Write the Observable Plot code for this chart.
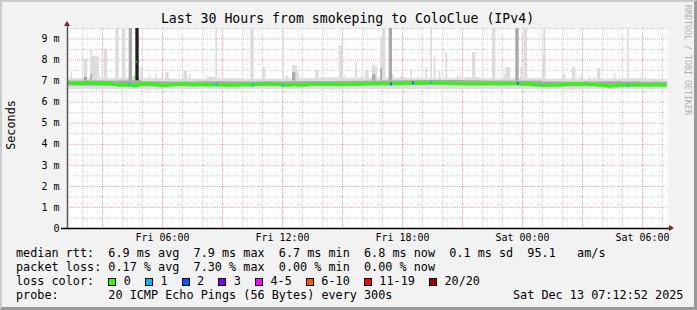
<!DOCTYPE html>
<html>
<head>
<meta charset="utf-8">
<script src="https://cdn.jsdelivr.net/npm/d3@7"></script>
<script src="https://cdn.jsdelivr.net/npm/@observablehq/plot@0.6"></script>
<style>
  html, body { margin: 0; padding: 0; background: #f2f2f2; }
  #wrap { position: relative; width: 697px; height: 310px; overflow: hidden; background: #f2f2f2;
          font-family: "DejaVu Sans Mono", monospace; color: #000; }
  #frame { position: absolute; left: 0; top: 0; width: 697px; height: 310px; box-sizing: border-box;
           border-style: solid; border-width: 2px 3px 3px 2px; border-color: #cbcbcb #999 #999 #cbcbcb; pointer-events: none; }
  #plot { position: absolute; left: 0; top: 0; }
  #title { position: absolute; left: 0; top: 11.4px; width: 695px; text-align: center; font-size: 13.2px; line-height: 16px; white-space: pre; }
  #ylabel { position: absolute; left: -39px; top: 118px; width: 100px; text-align: center; font-size: 11.8px; line-height: 14px; transform: rotate(-90deg); }
  #credit { position: absolute; left: 628px; top: 55px; width: 120px; text-align: center; font-size: 8.3px; line-height: 10px; color: #b0b0b0; transform: rotate(90deg); white-space: pre; }
  .row { position: absolute; left: 16px; font: 11.8px/14px "DejaVu Sans Mono", monospace; white-space: pre; margin: 0; }
  .box { display: inline-block; width: 8px; height: 8px; box-sizing: border-box; border: 1px solid #000; vertical-align: -1px; margin-left: 14.2px; }
  .lab { margin-left: 7.4px; }
  #stamp { position: absolute; left: 513px; top: 288.4px; font: 11.8px/14px "DejaVu Sans Mono", monospace; white-space: pre; }
</style>
</head>
<body>
<div id="wrap">
  <div id="plot"></div>
  <div id="title"></div>
  <div id="ylabel"></div>
  <div id="credit"></div>
  <div class="row" id="row1" style="top:246.4px"></div>
  <div class="row" id="row2" style="top:260.4px"></div>
  <div class="row" id="row3" style="top:274.4px"></div>
  <div class="row" id="row4" style="top:288.4px"></div>
  <div id="stamp"></div>
  <div id="frame"></div>
</div>
<script>
// ---------- data ----------
const titleText = "Last 30 Hours from smokeping to ColoClue (IPv4)";
const yAxisTitle = "Seconds";
const creditText = "RRDTOOL / TOBI OETIKER";
const xTickLabels = ["Fri 06:00", "Fri 12:00", "Fri 18:00", "Sat 00:00", "Sat 06:00"];
const yTickValues = [0, 1, 2, 3, 4, 5, 6, 7, 8, 9];
const yTickLabels = ["0", "1 m", "2 m", "3 m", "4 m", "5 m", "6 m", "7 m", "8 m", "9 m"];
const lossClasses = ["0", "1", "2", "3", "4-5", "6-10", "11-19", "20/20"];
const lossColors = ["#26ff00", "#00b8ff", "#0059ff", "#7e00ff", "#ff00ff", "#ff5500", "#ff0000", "#a00000"];
const rttStats = ["6.9 ms avg", "7.9 ms max", "6.7 ms min", "6.8 ms now", "0.1 ms sd", "95.1   am/s"];
const lossStats = ["0.17 % avg", "7.30 % max", "0.00 % min", "0.00 % now"];
const probeText = "20 ICMP Echo Pings (56 Bytes) every 300s";
const stampText = "Sat Dec 13 07:12:52 2025";

// median rtt (ms), 15-minute steps from Fri 01:15
const medianRtt = [
  6.92, 6.91, 6.88, 6.90, 6.93, 6.90, 6.89, 6.91, 6.86, 6.84,
  6.81, 6.82, 6.80, 6.78, 6.84, 6.87, 6.85, 6.84, 6.81, 6.78,
  6.82, 6.84, 6.85, 6.87, 6.83, 6.82, 6.84, 6.83, 6.82, 6.83,
  6.82, 6.80, 6.80, 6.81, 6.82, 6.83, 6.82, 6.84, 6.84, 6.85,
  6.85, 6.84, 6.83, 6.81, 6.82, 6.83, 6.80, 6.82, 6.85, 6.85,
  6.84, 6.84, 6.85, 6.84, 6.83, 6.85, 6.84, 6.85, 6.86, 6.87,
  6.88, 6.87, 6.89, 6.88, 6.89, 6.88, 6.90, 6.89, 6.91, 6.90,
  6.92, 6.91, 6.92, 6.91, 6.90, 6.91, 6.89, 6.88, 6.88, 6.86,
  6.87, 6.86, 6.88, 6.89, 6.90, 6.89, 6.88, 6.89, 6.88, 6.89,
  6.87, 6.86, 6.86, 6.82, 6.80, 6.79, 6.81, 6.81, 6.82, 6.84,
  6.88, 6.87, 6.84, 6.85, 6.83, 6.84, 6.80, 6.78, 6.76, 6.78,
  6.80, 6.81, 6.82, 6.83, 6.81, 6.82, 6.81, 6.83, 6.82, 6.81
];
// short median excursions (5-minute samples)
const jumpTime = ["Fri 04:35", "Fri 04:40"];
const jumpRtt = [7.20, 7.92];

// hourly smoke envelope (ms), hours Fri 01:00 .. Sat 07:00
const smokeLow  = [6.60,6.59,6.59,6.60,6.58,6.59,6.60,6.59,6.60,6.59,6.60,6.60,6.59,6.58,6.59,6.60,6.59,6.60,6.60,6.59,6.60,6.59,6.60,6.59,6.60,6.58,6.59,6.60,6.59,6.60,6.59];
const smokeHigh = [7.11,7.14,7.13,7.14,7.12,7.10,7.09,7.10,7.12,7.09,7.10,7.11,7.13,7.14,7.14,7.15,7.14,7.13,7.12,7.14,7.14,7.11,7.12,7.13,7.10,7.10,7.09,7.10,7.11,7.09,7.08];
const midLow    = [6.77,6.76,6.76,6.75,6.73,6.75,6.75,6.74,6.75,6.75,6.75,6.74,6.75,6.75,6.76,6.77,6.78,6.79,6.80,6.79,6.78,6.77,6.77,6.75,6.73,6.73,6.75,6.74,6.72,6.73,6.73];
const midHigh   = [7.00,7.01,7.00,7.01,6.97,6.96,6.96,6.97,6.97,6.96,6.97,6.97,6.98,6.98,6.99,7.00,7.01,7.02,7.03,7.03,7.02,7.00,7.00,7.00,6.96,6.95,6.96,6.97,6.96,6.95,6.94];

// smoke spikes: start time, duration (min), top (ms), shade
const spikeTime = ["Fri 01:25","Fri 02:05","Fri 02:25","Fri 02:30","Fri 03:05","Fri 03:40","Fri 04:00","Fri 04:20","Fri 04:40","Fri 04:55",
  "Fri 05:20","Fri 05:40","Fri 06:10","Fri 07:05","Fri 07:20","Fri 08:15","Fri 08:40","Fri 10:25","Fri 11:00","Fri 12:00",
  "Fri 12:10","Fri 12:30","Fri 12:45","Fri 13:15","Fri 13:40","Fri 13:55","Fri 14:15","Fri 14:30","Fri 14:50","Fri 15:05",
  "Fri 15:25","Fri 15:40","Fri 15:55","Fri 16:10","Fri 16:30","Fri 16:40","Fri 16:55","Fri 17:00","Fri 17:20","Fri 17:30",
  "Fri 17:55","Fri 18:25","Fri 18:45","Fri 19:10","Fri 19:25","Fri 19:35","Fri 19:50","Fri 20:10","Fri 20:45","Fri 21:10",
  "Fri 21:30","Fri 21:40","Fri 22:00","Fri 22:30","Fri 23:05","Fri 23:10","Fri 23:40","Fri 23:55","Sat 00:05","Sat 00:15",
  "Sat 01:00","Sat 01:05","Sat 02:00","Sat 02:30","Sat 02:55","Sat 03:20","Sat 03:35","Sat 03:45","Sat 04:35","Sat 05:15",
  "Sat 06:10",
  "Fri 02:05","Fri 02:25","Fri 12:30","Fri 16:30","Fri 16:55"];
const spikeMinutes = [5,10,5,20,10,10,10,10,10,5, 5,5,10,10,5,35,5,10,10,5, 10,15,5,10,10,10,10,10,10,5,
  5,5,5,10,10,5,5,10,10,5, 10,5,5,5,5,5,5,5,5,10, 10,10,20,10,5,15,10,5,10,10,
  10,5,10,10,5,5,5,10,5,5, 5, 10,5,10,10,5];
const spikeTop = [7.40,8.05,8.50,8.16,8.52,10,10,10,10,7.65, 7.25,7.33,7.41,7.49,7.33,7.17,10,10,7.65,10,
  7.25,7.73,7.49,7.10,7.52,7.17,7.17,7.17,8.68,7.25, 7.10,7.89,7.17,7.49,7.76,7.68,9.08,10,10,7.33,
  7.25,7.57,7.17,7.65,10,8.13,7.49,8.36,7.25,7.17, 8.36,7.17,7.10,10,7.33,7.65,10,7.65,10,7.10,
  8.24,10,7.30,7.65,7.25,7.25,7.17,7.60,7.33,10, 7.17,
  7.17,7.33,7.40,7.30,7.60];
const spikeShade = ["L","L","L","L","L","L","L","M","D","L", "L","L","L","L","L","L","L","L","L","L",
  "L","L","L","L","L","L","L","L","L","L", "L","L","L","L","L","L","L","L","M","L",
  "L","L","L","L","L","L","L","L","L","L", "L","L","L","L","L","L","M","L","L","L",
  "L","L","L","L","L","L","L","L","L","L", "L",
  "M","M","M","M","M"];

// median points with packet loss: time, lost pings class index, rtt
const lossTime = ["Fri 04:20","Fri 08:40","Fri 10:30","Fri 12:00","Fri 17:25","Fri 18:30","Fri 19:25","Fri 23:45","Sat 05:15"];
const lossClass = [1, 1, 1, 1, 2, 2, 1, 2, 1];
const lossRtt = [6.86, 6.84, 6.83, 6.81, 6.86, 6.92, 6.93, 6.89, 6.81];

// ---------- build ----------
const T = s => { const [d, hm] = s.split(" "); const [h, m] = hm.split(":").map(Number);
  return new Date(Date.UTC(2025, 11, d === "Fri" ? 12 : 13, h, m)); };
const MIN = 60000;
const xStart = T("Fri 01:15"), xEnd = T("Sat 07:15");
const medianData = medianRtt.map((v, i) => ({t: new Date(+xStart + (15 * i + 7.5) * MIN), v}));
const dataEnd = new Date(+xStart + 15 * medianRtt.length * MIN);
const bandData = smokeLow.map((lo, i) => {
  const h0 = d3.utcHour.offset(T("Fri 01:00"), i);
  const h1 = d3.utcHour.offset(h0, 1);
  return {t0: h0 < xStart ? xStart : h0, t1: h1 > dataEnd ? dataEnd : h1, lo, hi: smokeHigh[i], mlo: midLow[i], mhi: midHigh[i]};
}).filter(d => d.t1 > d.t0);
const shadeColor = {L: "#dcdcdc", M: "#a9a9a9", D: "#1e1e1e"};
const spikeData = spikeTime.map((s, i) => ({t0: T(s), t1: new Date(+T(s) + spikeMinutes[i] * MIN), top: spikeTop[i], shade: shadeColor[spikeShade[i]]}));
const jumpData = jumpTime.map((s, i) => ({t0: T(s), t1: new Date(+T(s) + 4 * MIN), v: jumpRtt[i]}));
const lossData = lossTime.map((s, i) => ({t0: T(s), t1: new Date(+T(s) + 5 * MIN), v: lossRtt[i], c: lossColors[lossClass[i]]}));
const xTicks = xTickLabels.map(T);
const hours = d3.utcHour.range(d3.utcHour.ceil(xStart), xEnd);
const minorX = hours.filter(d => d.getUTCHours() % 3 !== 0);
const majorX = hours.filter(d => d.getUTCHours() % 3 === 0);
const minorY = yTickValues.map(v => v + 0.5);
const majorY = yTickValues.filter(v => v > 0);

const plot = Plot.plot({
  width: 697, height: 250,
  marginLeft: 67, marginRight: 30, marginTop: 28, marginBottom: 22,
  style: {background: "transparent", fontFamily: "'DejaVu Sans Mono', monospace", fontSize: "10px", color: "#000", overflow: "visible"},
  x: {type: "utc", domain: [xStart, xEnd]},
  y: {domain: [0, 9.5]},
  marks: [
    Plot.frame({fill: "#fff", stroke: null}),
    Plot.ruleX(minorX, {stroke: "#cfcfcf", strokeDasharray: "1,1"}),
    Plot.ruleX(majorX, {stroke: "#eba5a5", strokeDasharray: "1,1"}),
    Plot.ruleY(minorY, {stroke: "#cfcfcf", strokeDasharray: "1,1"}),
    Plot.ruleY(majorY, {stroke: "#eba5a5", strokeDasharray: "1,1"}),
    Plot.rect(bandData, {x1: "t0", x2: "t1", y1: "lo", y2: "hi", fill: "#dedede"}),
    Plot.rect(spikeData, {x1: "t0", x2: "t1", y1: 7.0, y2: "top", fill: "shade", clip: true}),
    Plot.rect(bandData, {x1: "t0", x2: "t1", y1: "mlo", y2: "mhi", fill: "#a8a8a8"}),
    Plot.line(medianData, {x: "t", y: "v", stroke: lossColors[0], strokeWidth: 3, curve: "step"}),
    Plot.ruleY(jumpData, {x1: "t0", x2: "t1", y: "v", stroke: lossColors[0], strokeWidth: 2}),
    Plot.ruleY(lossData, {x1: "t0", x2: "t1", y: "v", stroke: "c", strokeWidth: 3}),
    Plot.axisX(xTicks, {anchor: "bottom", tickSize: 0, tickPadding: 5, label: null,
      tickFormat: d => xTickLabels[xTicks.findIndex(t => +t === +d)]}),
    Plot.axisY(yTickValues, {anchor: "left", tickSize: 0, tickPadding: 8, label: null,
      tickFormat: d => yTickLabels[yTickValues.indexOf(d)]}),
    Plot.ruleX([xStart], {stroke: "#555", strokeWidth: 1.5, insetTop: -5}),
    Plot.ruleY([0], {stroke: "#000", strokeWidth: 1.5, insetLeft: -6, insetRight: -2})
  ]
});

// arrows at the ends of the axes, placed with the plot's own scales
const sx = plot.scale("x"), sy = plot.scale("y");
const ax = sx.apply(xStart), ay0 = sy.apply(0), ayTop = sy.apply(9.5), axEnd = sx.apply(xEnd);
const svg = d3.select(plot);
svg.append("path").attr("fill", "#8b1c1c")
  .attr("d", `M${ax - 3},${ayTop - 2}L${ax + 3},${ayTop - 2}L${ax},${ayTop - 7}Z`);
svg.append("path").attr("fill", "#8b1c1c")
  .attr("d", `M${axEnd + 2},${ay0 - 3}L${axEnd + 2},${ay0 + 3}L${axEnd + 7},${ay0}Z`);
document.getElementById("plot").appendChild(plot);

// texts
document.getElementById("title").textContent = titleText;
document.getElementById("ylabel").textContent = yAxisTitle;
document.getElementById("credit").textContent = creditText;
document.getElementById("row1").textContent = "median rtt:  " + rttStats.join("  ");
document.getElementById("row2").textContent = "packet loss: " + lossStats.join("  ");
const row3 = document.getElementById("row3");
const head = document.createElement("span"); head.textContent = "loss color:"; row3.appendChild(head);
lossClasses.forEach((c, i) => {
  const b = document.createElement("span"); b.className = "box"; b.style.background = lossColors[i]; row3.appendChild(b);
  const l = document.createElement("span"); l.className = "lab"; l.textContent = c; row3.appendChild(l);
});
document.getElementById("row4").textContent = "probe:       " + probeText;
document.getElementById("stamp").textContent = stampText;
</script>
</body>
</html>
